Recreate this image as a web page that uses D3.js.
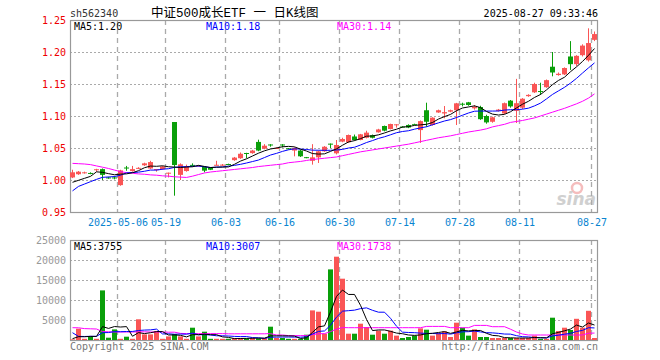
<!DOCTYPE html>
<html>
<head>
<meta charset="utf-8">
<script src="https://cdn.jsdelivr.net/npm/d3@7"></script>
<style>
  body { margin: 0; background: #fff; }
  text { font-family: "DejaVu Sans Mono", monospace; font-size: 10px; }
</style>
</head>
<body>
<div id="chart"></div>
<script>
// header
const code = "sh562340";
const title = "中证500成长ETF 一 日K线图";
const stamp = "2025-08-27 09:33:46";

// daily candles (index 0 = first bar on the chart)
const opens  = [1.004,1.009,1.011,1.011,1.016,1.017,1.004,1.004,0.992,1.0195,
                1.014,1.018,1.023,1.018,1.0165,1.017,1.011,1.0906,1.008,1.014,
                1.0236,1.0215,1.0203,1.0195,1.023,1.023,1.025,1.031,1.034,1.0422,
                1.042,1.0595,1.049,1.0555,1.0495,1.0555,1.0495,1.046,1.046,1.0357,
                1.030,1.0354,1.0448,1.0568,1.0417,1.060,1.059,1.068,1.0625,1.066,
                1.070,1.0745,1.0844,1.0797,1.0868,1.0835,1.086,1.0872,1.078,1.109,
                1.0859,1.1055,1.104,1.1068,1.109,1.1192,1.1214,1.112,1.114,1.100,
                1.091,1.108,1.104,1.124,1.108,1.113,1.131,1.137,1.139,1.145,
                1.177,1.164,1.165,1.193,1.181,1.195,1.187,1.219];
const highs  = [1.016,1.014,1.013,1.012,1.0175,1.018,1.005,1.006,1.016,1.022,
                1.022,1.020,1.027,1.030,1.0172,1.022,1.0115,1.0906,1.026,1.024,
                1.026,1.023,1.021,1.020,1.030,1.025,1.0255,1.036,1.043,1.0425,
                1.047,1.063,1.056,1.056,1.051,1.056,1.050,1.051,1.047,1.036,
                1.056,1.046,1.053,1.057,1.0625,1.066,1.071,1.071,1.072,1.077,
                1.071,1.080,1.085,1.088,1.0872,1.084,1.087,1.088,1.093,1.1208,
                1.098,1.110,1.1156,1.110,1.1205,1.1208,1.122,1.117,1.116,1.102,
                1.099,1.111,1.121,1.125,1.158,1.128,1.134,1.152,1.152,1.157,
                1.200,1.168,1.176,1.217,1.195,1.212,1.237,1.232];
const lows   = [1.003,1.008,1.010,1.009,1.013,1.000,1.002,1.001,0.991,1.0145,
                1.013,1.017,1.022,1.017,1.013,1.016,1.004,0.9755,1.000,1.013,
                1.021,1.021,1.012,1.0155,1.023,1.022,1.023,1.030,1.033,1.034,
                1.041,1.045,1.048,1.052,1.049,1.051,1.048,1.037,1.036,1.034,
                1.024,1.0266,1.044,1.050,1.040,1.059,1.058,1.0615,1.062,1.065,
                1.065,1.074,1.076,1.079,1.0818,1.082,1.081,1.086,1.058,1.083,
                1.085,1.105,1.0964,1.106,1.0859,1.115,1.116,1.110,1.094,1.088,
                1.0895,1.107,1.103,1.113,1.089,1.111,1.130,1.136,1.133,1.144,
                1.162,1.163,1.164,1.172,1.178,1.193,1.185,1.217];
const closes = [1.012,1.013,1.012,1.010,1.0168,1.008,1.003,1.003,1.015,1.019,
                1.017,1.019,1.026,1.028,1.017,1.021,1.0114,1.0234,1.0245,1.021,
                1.023,1.0225,1.0146,1.016,1.0238,1.024,1.024,1.035,1.041,1.0415,
                1.046,1.046,1.0536,1.055,1.050,1.055,1.049,1.050,1.037,1.0352,
                1.0354,1.0448,1.052,1.0562,1.0547,1.064,1.0703,1.0625,1.0714,1.074,
                1.066,1.079,1.0771,1.0875,1.087,1.0832,1.082,1.0868,1.092,1.091,
                1.0974,1.109,1.106,1.109,1.1198,1.1188,1.1172,1.1145,1.095,1.090,
                1.098,1.110,1.120,1.115,1.120,1.127,1.133,1.150,1.138,1.156,
                1.168,1.166,1.175,1.181,1.194,1.210,1.214,1.228];
const volumes = [150,2825,300,900,300,12400,575,2650,300,825,
                 300,5175,1400,1400,2240,300,900,1500,900,300,
                 3075,900,2075,300,300,300,300,500,500,400,
                 500,400,500,3325,500,500,300,300,300,1325,
                 7400,7075,1575,17650,20825,15325,1575,1575,4075,3250,
                 1325,2340,1575,2340,1090,500,750,1090,2910,2575,
                 1090,1740,2160,750,4325,3075,1090,2660,750,750,
                 500,500,500,500,500,500,500,1090,300,300,
                 5575,2240,3075,2500,5300,3075,7300,500];

// closes / volumes of the days just before the first bar (for MA5 / MA10)
const priorCloses  = [0.943,0.975,0.973,0.981,0.976,0.9975,0.9965,0.9945,0.9815];
const priorVolumes = [12000,500,500,500,3050,300,400,400,375];

// 30-day averages as drawn
const ma30Price = [1.026,1.0255,1.025,1.024,1.022,1.020,1.018,1.0155,1.013,1.0115,
                   1.0105,1.0095,1.009,1.008,1.0075,1.0065,1.006,1.005,1.0045,1.004,
                   1.006,1.0085,1.011,1.0125,1.0135,1.0145,1.0155,1.0165,1.0175,1.0185,
                   1.0195,1.021,1.022,1.023,1.024,1.025,1.027,1.028,1.029,1.0305,
                   1.032,1.033,1.034,1.035,1.036,1.038,1.040,1.042,1.044,1.0455,
                   1.047,1.0485,1.050,1.0515,1.053,1.0545,1.056,1.058,1.060,1.062,
                   1.064,1.066,1.0675,1.069,1.071,1.073,1.075,1.0765,1.078,1.080,
                   1.083,1.085,1.087,1.090,1.0915,1.093,1.095,1.097,1.100,1.103,
                   1.106,1.109,1.112,1.1155,1.119,1.123,1.128,1.1345];
const ma30Volume = [3075,3050,2850,2800,2750,2100,2050,2000,2000,2000,
                    2000,2050,2050,2000,2000,2000,1950,1950,1650,1600,
                    1600,1600,1600,1600,1600,1600,1550,1550,1550,1550,
                    1550,1550,1550,1600,1250,1250,1100,1100,1100,1100,
                    1350,1550,1600,2100,2700,3100,3075,3075,3075,3075,
                    3075,3075,3075,3075,3075,3075,3075,3075,3075,3400,
                    3400,3400,3400,3075,3075,3075,3075,3650,3650,3650,
                    3325,3325,3325,2700,2000,1500,1250,1250,1250,1250,
                    1250,1250,1250,1250,1250,1250,1700,1738];

// axes
const tickIndex  = [8,16,26,35,45,55,65,75,87];
const tickLabels = ["2025-05-06","05-19","06-03","06-16","06-30","07-14","07-28","08-11","08-27"];
const priceTicks  = [0.95,1.00,1.05,1.10,1.15,1.20,1.25];
const volumeTicks = [5000,10000,15000,20000,25000];
const priceLegend  = ["MA5:1.20","MA10:1.18","MA30:1.14"];
const volumeLegend = ["MA5:3755","MA10:3007","MA30:1738"];

const W = 660, H = 360;
const left = 70, right = 598;
const RED = "#fa5555", GREEN = "#0a9f0a", GRID = "#aaa";
const maColors = ["#000", "#0000ff", "#ff00ff"];

const svg = d3.select("#chart").append("svg")
  .attr("width", W).attr("height", H);

const idx = d3.range(closes.length);
const x = d3.scaleBand().domain(idx).range([left, right])
  .paddingInner(0.17).paddingOuter(0).align(0).round(true);
const cx = i => x(i) + 2.5;

const yP = d3.scaleLinear().domain([0.95, 1.25]).range([212, 20]);
const yV = d3.scaleLinear().domain([0, 25000]).range([340, 240]);

function movingAvg(values, prior, n) {
  const all = prior.concat(values);
  return values.map((_, i) => d3.mean(all.slice(i + prior.length - n + 1, i + prior.length + 1)));
}
const ma5 = movingAvg(closes, priorCloses, 5);
const ma10 = movingAvg(closes, priorCloses, 10);
const vma5 = movingAvg(volumes, priorVolumes, 5);
const vma10 = movingAvg(volumes, priorVolumes, 10);

// header text
svg.append("text").attr("x", 70).attr("y", 17).attr("fill", "#333").text(code);
svg.append("text").attr("x", 151).attr("y", 17)
  .style("font-family", "'Liberation Mono', 'Noto Sans CJK SC'").style("font-size", "12.5px")
  .attr("fill", "#000").text(title);
svg.append("text").attr("x", 598).attr("y", 17).attr("text-anchor", "end")
  .attr("fill", "#000").text(stamp);

function panel(top, bottom, yScale, ticks, labelColor, fmt) {
  const g = svg.append("g");
  // horizontal dotted grid
  g.selectAll("line.h").data(ticks.filter(t => yScale(t) > top + 1 && yScale(t) < bottom - 1))
    .enter().append("line")
    .attr("x1", left).attr("x2", right)
    .attr("y1", d => Math.round(yScale(d)) + 0.5).attr("y2", d => Math.round(yScale(d)) + 0.5)
    .attr("stroke", GRID).attr("stroke-dasharray", "2,2");
  // vertical dashed grid
  g.selectAll("line.v").data(tickIndex).enter().append("line")
    .attr("x1", d => x(d) - 0.5).attr("x2", d => x(d) - 0.5)
    .attr("y1", top).attr("y2", bottom)
    .attr("stroke", GRID).attr("stroke-width", 1.3).attr("stroke-dasharray", "5,4");
  // frame
  g.append("rect").attr("x", left + 0.5).attr("y", top + 0.5)
    .attr("width", right - left - 1).attr("height", bottom - top)
    .attr("fill", "none").attr("stroke", "#999").attr("stroke-width", 1.2);
  // value labels
  g.selectAll("text").data(ticks).enter().append("text")
    .attr("x", 66).attr("y", d => yScale(d) + 4)
    .attr("text-anchor", "end").attr("fill", labelColor).text(fmt);
  return g;
}

panel(20, 212, yP, priceTicks, "#ee0000", d => d.toFixed(2));
panel(240, 340, yV, volumeTicks, "#999", d => d);

// date labels
svg.append("g").selectAll("text").data(tickIndex).enter().append("text")
  .attr("x", d => x(d)).attr("y", 226).attr("text-anchor", "middle")
  .attr("fill", "#0a84d0").text((d, i) => tickLabels[i]);

// watermark
const wm = svg.append("g").attr("opacity", 0.55);
wm.append("circle").attr("cx", 577).attr("cy", 188).attr("r", 5)
  .attr("fill", "none").attr("stroke", "#e88").attr("stroke-width", 2.5);
wm.append("text").attr("x", 596).attr("y", 205).attr("text-anchor", "end")
  .style("font-family", "'DejaVu Sans'").style("font-size", "17px")
  .style("font-weight", "bold").style("font-style", "italic")
  .attr("fill", "#aaa").text("sina");

// candles
const up = i => closes[i] >= opens[i];
const candles = svg.append("g");
candles.selectAll("line").data(idx).enter().append("line")
  .attr("x1", cx).attr("x2", cx)
  .attr("y1", i => yP(highs[i])).attr("y2", i => yP(lows[i]))
  .attr("stroke", i => up(i) ? RED : GREEN);
candles.selectAll("rect").data(idx).enter().append("rect")
  .attr("x", i => x(i)).attr("width", x.bandwidth())
  .attr("y", i => yP(Math.max(opens[i], closes[i])))
  .attr("height", i => Math.max(1, Math.abs(yP(opens[i]) - yP(closes[i]))))
  .attr("fill", i => up(i) ? RED : GREEN);

// volume bars
svg.append("g").selectAll("rect").data(idx).enter().append("rect")
  .attr("x", i => x(i)).attr("width", x.bandwidth())
  .attr("y", i => yV(volumes[i]))
  .attr("height", i => yV(0) - yV(volumes[i]))
  .attr("fill", i => up(i) ? RED : GREEN);

// moving average lines
function maLine(series, yScale, color) {
  svg.append("path").datum(series)
    .attr("d", d3.line().x((d, i) => cx(i)).y(d => yScale(d)))
    .attr("fill", "none").attr("stroke", color).attr("stroke-width", 1);
}
[ma30Price, ma10, ma5].forEach((s, j) => maLine(s, yP, maColors[2 - j]));
[ma30Volume, vma10, vma5].forEach((s, j) => maLine(s, yV, maColors[2 - j]));

// legends
const legendX = [74, 206, 337];
svg.append("g").selectAll("text").data(priceLegend).enter().append("text")
  .attr("x", (d, i) => legendX[i]).attr("y", 30).attr("fill", (d, i) => maColors[i]).text(d => d);
svg.append("g").selectAll("text").data(volumeLegend).enter().append("text")
  .attr("x", (d, i) => legendX[i]).attr("y", 250).attr("fill", (d, i) => maColors[i]).text(d => d);

// footer
svg.append("text").attr("x", 70).attr("y", 350).attr("fill", "#777").text("Copyright 2025 SINA.COM");
svg.append("text").attr("x", 598).attr("y", 350).attr("text-anchor", "end")
  .attr("fill", "#777").text("http://finance.sina.com.cn");
</script>
</body>
</html>
